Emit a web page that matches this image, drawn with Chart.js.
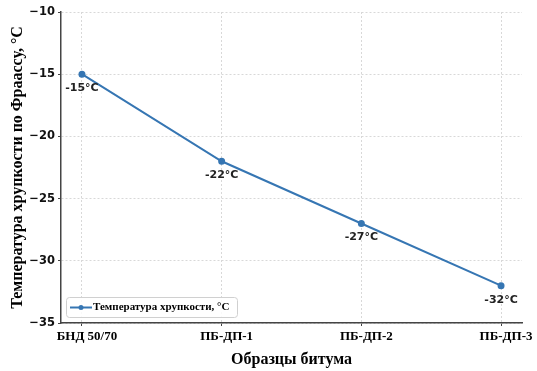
<!DOCTYPE html>
<html>
<head>
<meta charset="utf-8">
<script src="https://cdn.jsdelivr.net/npm/chart.js@4/dist/chart.umd.min.js"></script>
<style>
  html, body { margin: 0; padding: 0; background: #fff; }
  #wrap { width: 537px; height: 371px; }
</style>
</head>
<body>
<div id="wrap"><canvas id="chart" width="537" height="371"></canvas></div>
<script>
const categories = ['БНД 50/70', 'ПБ-ДП-1', 'ПБ-ДП-2', 'ПБ-ДП-3'];
const brittleTemp = [-15, -22, -27, -32];
const yTicks = [-10, -15, -20, -25, -30, -35];

const seriesLabel = 'Температура хрупкости, °C';
const lineColor = '#3676b3';

// value labels under each point
const pointLabels = {
    id: 'pointLabels',
    afterDatasetsDraw(chart) {
        const ctx = chart.ctx;
        const meta = chart.getDatasetMeta(0);
        ctx.save();
        ctx.font = 'bold 11px "DejaVu Sans"';
        ctx.fillStyle = '#222';
        ctx.textAlign = 'center';
        ctx.textBaseline = 'middle';
        meta.data.forEach((pt, i) => {
            ctx.fillText(brittleTemp[i] + '°C', pt.x, pt.y + 14);
        });
        ctx.restore();
    }
};

// legend box inside the plot, lower left
const innerLegend = {
    id: 'innerLegend',
    afterDraw(chart) {
        const ctx = chart.ctx;
        const area = chart.chartArea;
        const x = area.left + 5, y = area.bottom - 26, w = 171, h = 20;
        ctx.save();
        ctx.fillStyle = 'rgba(255,255,255,0.85)';
        ctx.strokeStyle = '#d0d0d0';
        ctx.lineWidth = 1;
        ctx.beginPath();
        ctx.roundRect(x + 0.5, y + 0.5, w, h, 3);
        ctx.fill();
        ctx.stroke();
        const cy = y + h / 2 + 0.5;
        ctx.strokeStyle = lineColor;
        ctx.lineWidth = 2;
        ctx.beginPath();
        ctx.moveTo(x + 4, cy);
        ctx.lineTo(x + 26, cy);
        ctx.stroke();
        ctx.fillStyle = lineColor;
        ctx.beginPath();
        ctx.arc(x + 15, cy, 2.5, 0, Math.PI * 2);
        ctx.fill();
        ctx.fillStyle = '#000';
        ctx.font = 'bold 11px "Liberation Serif"';
        ctx.textBaseline = 'middle';
        ctx.fillText(seriesLabel, x + 27, cy);
        ctx.restore();
    }
};

new Chart(document.getElementById('chart').getContext('2d'), {
    type: 'line',
    data: {
        datasets: [{
            label: seriesLabel,
            data: brittleTemp.map((v, i) => ({ x: i, y: v })),
            borderColor: lineColor,
            backgroundColor: lineColor,
            borderWidth: 2,
            pointRadius: 2.5,
            pointHoverRadius: 2.5,
            tension: 0,
        }]
    },
    options: {
        responsive: false,
        animation: false,
        layout: {
            padding: { top: 12, right: 15, left: 0, bottom: 0 }
        },
        plugins: {
            legend: { display: false },
            tooltip: { enabled: false },
        },
        scales: {
            x: {
                type: 'linear',
                min: -0.15,
                max: 3.15,
                afterBuildTicks: (scale) => {
                    scale.ticks = categories.map((c, i) => ({ value: i }));
                },
                afterFit: (scale) => { scale.height = 48; },
                ticks: {
                    callback: (v) => categories[v] ?? '',
                    color: '#000',
                    font: { family: 'Liberation Serif', weight: 'bold', size: 13 },
                    padding: 3,
                    labelOffset: 5,
                    maxRotation: 0,
                },
                grid: {
                    color: '#d8d8d8',
                    lineWidth: 1,
                    tickLength: 3,
                    tickColor: '#444',
                },
                border: { display: true, color: '#444', width: 1.5, dash: [2, 2] },
                title: {
                    display: true,
                    text: 'Образцы битума',
                    color: '#000',
                    font: { family: 'Liberation Serif', weight: 'bold', size: 16 },
                    padding: { top: 0, bottom: 2 },
                },
            },
            y: {
                min: -35,
                max: -10,
                afterBuildTicks: (scale) => {
                    scale.ticks = yTicks.map(v => ({ value: v }));
                },
                afterFit: (scale) => { scale.width = 61; },
                ticks: {
                    callback: (v) => String(v).replace('-', '\u2212'),
                    color: '#111',
                    font: { family: 'DejaVu Sans', weight: 'bold', size: 11.5 },
                    padding: 3,
                },
                grid: {
                    color: '#d8d8d8',
                    lineWidth: 1,
                    tickLength: 3,
                    tickColor: '#444',
                },
                border: { display: true, color: '#444', width: 1.5, dash: [2, 2] },
                title: {
                    display: true,
                    text: 'Температура хрупкости по Фраассу, °C',
                    color: '#000',
                    font: { family: 'Liberation Serif', weight: 'bold', size: 16 },
                    padding: { top: 8, bottom: 0 },
                },
            }
        }
    },
    plugins: [pointLabels, innerLegend]
});
</script>
</body>
</html>
